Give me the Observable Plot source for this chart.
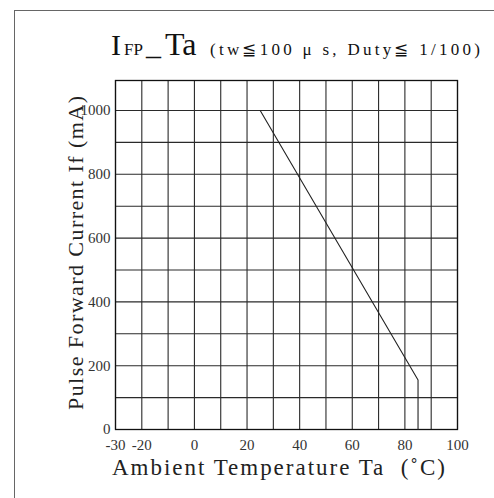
<!DOCTYPE html>
<html>
<head>
<meta charset="utf-8">
<script src="https://cdn.jsdelivr.net/npm/d3@7"></script>
<script src="https://cdn.jsdelivr.net/npm/@observablehq/plot@0.6"></script>
<style>
  html, body { margin: 0; padding: 0; background: #fff; }
  #wrap { position: relative; width: 494px; height: 498px; overflow: hidden; }
  #wrap svg { position: absolute; left: 0; top: 0; }
  .border-top { position: absolute; left: 14px; top: 10px; width: 480px; height: 0; border-top: 1px solid #666; }
  .border-left { position: absolute; left: 14px; top: 10px; width: 0; height: 488px; border-left: 1px solid #666; }
</style>
</head>
<body>
<div id="wrap"><div class="border-top"></div><div class="border-left"></div></div>
<script>
// ---- data ----
const ambientTemp = [25, 85, 85];          // Ta (°C)
const pulseCurrent = [1000, 155, 0];       // If (mA)
const xTickValues = [-30, -20, 0, 20, 40, 60, 80, 100];
const yTickValues = [0, 200, 400, 600, 800, 1000];
const xGridValues = [-30, -20, -10, 0, 10, 20, 30, 40, 50, 60, 70, 80, 90, 100];
const yGridValues = [0, 100, 200, 300, 400, 500, 600, 700, 800, 900, 1000];
const titleMain = ["I", "FP", "_", "Ta"];
const titleSub = "(tw\u2266100\u00a0\u03bc\u00a0s, Duty\u2266 1/100)";
const xLabel = "Ambient Temperature Ta\u00a0\u00a0(\u02daC)";
const yLabel = "Pulse Forward Current If (mA)";

const curve = ambientTemp.map((t, i) => ({t, i: pulseCurrent[i]}));

const serif = "'Liberation Serif', 'Times New Roman', serif";

const chart = Plot.plot({
  width: 494,
  height: 498,
  marginLeft: 115,
  marginRight: 37,
  marginTop: 80,
  marginBottom: 69,
  style: {fontFamily: serif, background: "transparent", overflow: "visible"},
  x: {domain: [-30, 100]},
  y: {domain: [0, 1094]},
  marks: [
    Plot.ruleX(xGridValues, {stroke: "#2a2a2a", strokeWidth: 1.1}),
    Plot.ruleY(yGridValues, {stroke: "#2a2a2a", strokeWidth: 1.1}),
    Plot.frame({stroke: "#111", strokeWidth: 1.3}),
    Plot.axisX({ticks: xTickValues, tickSize: 0, tickPadding: 10, fontSize: 15, label: null, color: "#333", tickFormat: d => String(d)}),
    Plot.axisY({ticks: yTickValues, tickSize: 0, tickPadding: 5, fontSize: 15, label: null, color: "#333", tickFormat: d => String(d)}),
    Plot.line(curve, {x: "t", y: "i", stroke: "#222", strokeWidth: 1.1})
  ]
});

document.getElementById("wrap").appendChild(chart);

// Title and axis labels
const svg = d3.select(chart);
const pieces = [
  {s: titleMain[0], x: 111, size: 30},
  {s: titleMain[1], x: 124, size: 17},
  {s: titleMain[2], x: 146, size: 30},
  {s: titleMain[3], x: 165, size: 32}
];
pieces.forEach(p => {
  svg.append("text")
    .attr("x", p.x).attr("y", 55).attr("text-anchor", "start")
    .attr("font-family", serif).attr("font-size", p.size).attr("fill", "#111")
    .text(p.s);
});
svg.append("text")
  .attr("x", 210).attr("y", 55).attr("text-anchor", "start")
  .attr("font-family", serif).attr("font-size", 17).attr("fill", "#111")
  .attr("textLength", 270).attr("lengthAdjust", "spacing")
  .text(titleSub);

svg.append("text")
  .attr("x", 112).attr("y", 475).attr("text-anchor", "start")
  .attr("font-family", serif).attr("font-size", 23).attr("fill", "#222")
  .attr("textLength", 333).attr("lengthAdjust", "spacing")
  .text(xLabel);

svg.append("text")
  .attr("transform", "translate(83,410) rotate(-90)").attr("text-anchor", "start")
  .attr("font-family", serif).attr("font-size", 22).attr("fill", "#222")
  .attr("textLength", 314).attr("lengthAdjust", "spacing")
  .text(yLabel);
</script>
</body>
</html>
